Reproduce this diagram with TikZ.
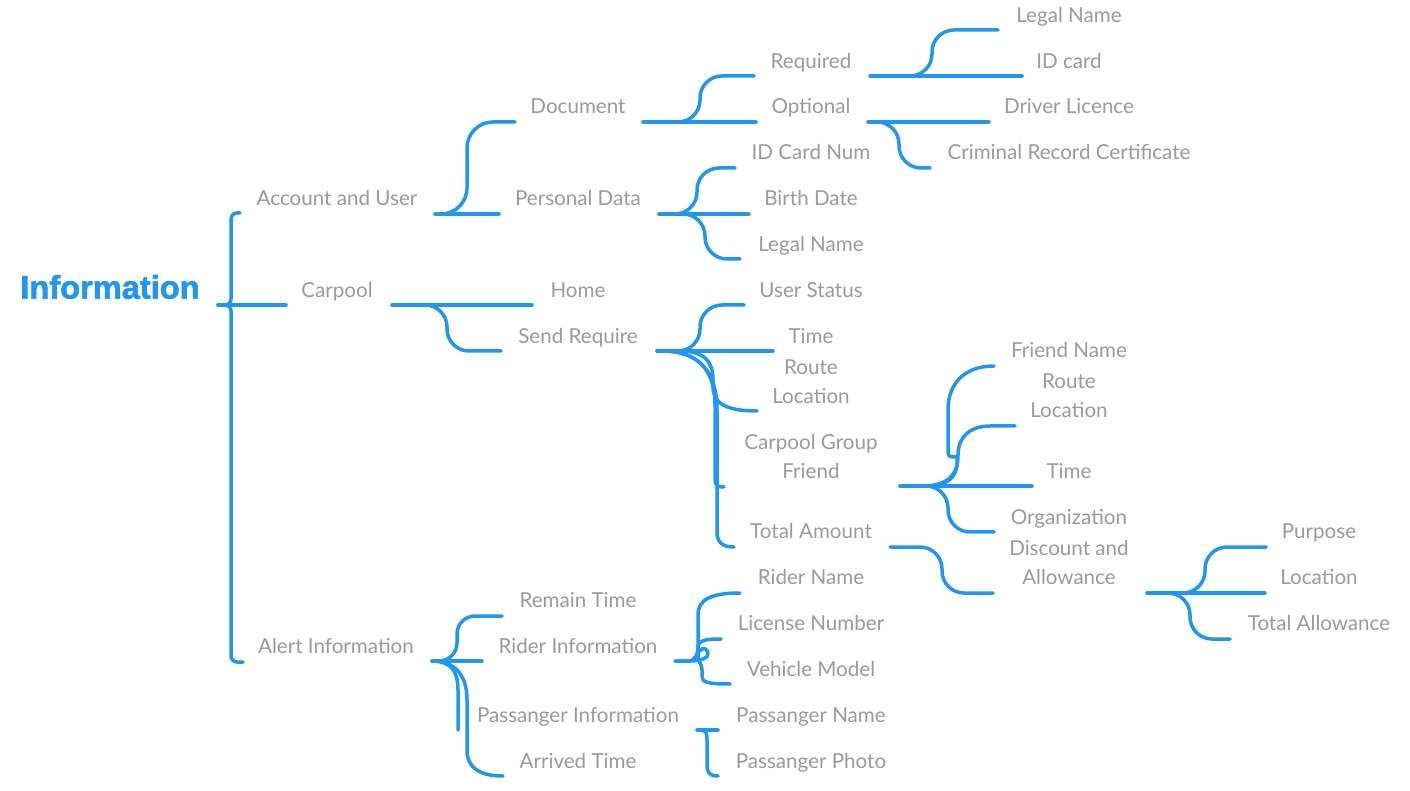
\documentclass[tikz,border=0pt]{standalone}
\usepackage{fontspec}
\setmainfont{Lato}
\newfontfamily\titlefont[BoldFeatures={FakeBold=1.8}]{Liberation Sans}
\definecolor{mapblue}{RGB}{33,150,243}
\definecolor{labelgray}{RGB}{155,155,155}
\tikzset{
  lbl/.style={text=labelgray, inner sep=0pt, yshift=-0.6pt, text height=1.45ex, text depth=0.25ex, font=\fontsize{10.3}{12}\selectfont},
  rootlbl/.style={text=mapblue, inner sep=0pt, font=\titlefont\bfseries\fontsize{16.3}{18}\selectfont},
  conn/.style={draw=mapblue, line width=1.75pt, line cap=round, line join=round},
  rc/.style={conn, rounded corners=#1},
  rc/.default=10pt
}
\begin{document}
\begin{tikzpicture}[x=0.5pt, y=-0.5pt]
\useasboundingbox (0,0) rectangle (1410,791);
% labels
\node[rootlbl] (info) at (110,287) {Information};
\node[lbl] (acc) at (337,198) {Account and User};
\node[lbl] (carpool) at (337,290) {Carpool};
\node[lbl] (alert) at (336,646) {Alert Information};
\node[lbl] (doc) at (578,106) {Document};
\node[lbl] (pers) at (578,198) {Personal Data};
\node[lbl] (home) at (578,290) {Home};
\node[lbl] (send) at (578,336) {Send Require};
\node[lbl] (remain) at (578,600) {Remain Time};
\node[lbl] (rider) at (578,646) {Rider Information};
\node[lbl] (pass) at (578,715) {Passanger Information};
\node[lbl] (arrived) at (578,761) {Arrived Time};
\node[lbl] (req) at (811,61) {Required};
\node[lbl] (opt) at (811,106) {Optional};
\node[lbl] (idnum) at (811,152) {ID Card Num};
\node[lbl] (birth) at (811,198) {Birth Date};
\node[lbl] (legal2) at (811,244) {Legal Name};
\node[lbl] (ustatus) at (811,290) {User Status};
\node[lbl] (time1) at (811,336) {Time};
\node[lbl] (route1) at (811,367) {Route};
\node[lbl] (loc1) at (811,396) {Location};
\node[lbl] (cgroup) at (811,442) {Carpool Group};
\node[lbl] (friend) at (811,471) {Friend};
\node[lbl] (total) at (811,531) {Total Amount};
\node[lbl] (rname) at (811,577) {Rider Name};
\node[lbl] (lic) at (811,623) {License Number};
\node[lbl] (veh) at (811,669) {Vehicle Model};
\node[lbl] (pname) at (811,715) {Passanger Name};
\node[lbl] (pphoto) at (811,761) {Passanger Photo};
\node[lbl] (legal1) at (1069,15) {Legal Name};
\node[lbl] (idcard) at (1069,61) {ID card};
\node[lbl] (driver) at (1069,106) {Driver Licence};
\node[lbl] (crim) at (1069,152) {Criminal Record Certificate};
\node[lbl] (fname) at (1069,350) {Friend Name};
\node[lbl] (route2) at (1069,381) {Route};
\node[lbl] (loc2) at (1069,410) {Location};
\node[lbl] (time2) at (1069,471) {Time};
\node[lbl] (org) at (1069,517) {Organization};
\node[lbl] (disc) at (1069,548) {Discount and};
\node[lbl] (allow) at (1069,577) {Allowance};
\node[lbl] (purpose) at (1319,531) {Purpose};
\node[lbl] (loc3) at (1319,577) {Location};
\node[lbl] (totalallow) at (1319,623) {Total Allowance};

% root brace
\coordinate (rootTip) at (218,305);
\draw[rc=3pt] (240,213) -- (231,213) -- (231,305) -- (rootTip);
\draw[rc=3pt] (rootTip) -- (231,305) -- (231,662) -- (243,662);
\draw[conn] (rootTip) -- (286,305);

% account and user
\coordinate (accO) at (435,214);
\draw[conn] (accO) -- (499,214);
\draw[rc=13pt] (accO) -- (467,214) -- (467,122) -- (515,122);

% document
\coordinate (docO) at (643,122);
\draw[conn] (docO) -- (756,122);
\draw[rc=11pt] (docO) -- (700,122) -- (700,76) -- (754,76);

% required
\coordinate (reqO) at (870,76);
\draw[conn] (reqO) -- (1022,76);
\draw[rc=11pt] (reqO) -- (932,76) -- (932,30) -- (998,30);

% optional
\coordinate (optO) at (868,122);
\draw[conn] (optO) -- (989,122);
\draw[rc=11pt] (optO) -- (899,122) -- (899,168) -- (930,168);

% personal data
\coordinate (persO) at (659,214);
\draw[conn] (persO) -- (749,214);
\draw[rc=11pt] (persO) -- (697,214) -- (697,168) -- (735,168);
\draw[rc=11pt] (persO) -- (705,214) -- (705,259) -- (740,259);

% carpool
\coordinate (carO) at (392,305);
\draw[conn] (carO) -- (532,305);
\draw[rc=11pt] (carO) -- (447,305) -- (447,351) -- (501,351);

% send require
\coordinate (sendO) at (657,351);
\draw[conn] (sendO) -- (773,351);
\draw[rc=11pt] (sendO) -- (700,351) -- (700,305) -- (744,305);
\draw[conn] (sendO) -- (680,351) .. controls (705,351) and (713,362) .. (713,380) -- (713,386) .. controls (713,403) and (725,411) .. (757,411);
\draw[conn] (sendO) -- (662,351) .. controls (700,351) and (715,372) .. (715,405) -- (715,480) .. controls (715,485) and (717,487) .. (724,487);
\draw[conn] (sendO) -- (662,351) .. controls (703,351) and (717,376) .. (717,410) -- (717,532) .. controls (717,542) and (722,547) .. (734,547);

% total amount
\coordinate (totO) at (890,547);
\draw[rc=11pt] (totO) -- (942,547) -- (942,593) -- (993,593);

% friend
\coordinate (frO) at (900,486);
\draw[conn] (frO) -- (1032,486);
\draw[conn] (957,457) -- (952,457) .. controls (949,457) and (948,455) .. (948,452) -- (948,410) .. controls (948,383) and (965,366) .. (994,366);
\draw[conn] (frO) -- (928,486) .. controls (952,486) and (959,472) .. (957,457);
\draw[conn] (frO) -- (922,486) .. controls (948,486) and (958,475) .. (958,455) .. controls (958,437) and (970,426) .. (990,426) -- (1015,426);
\draw[rc=11pt] (frO) -- (948,486) -- (948,532) -- (994,532);

% discount and allowance
\coordinate (discO) at (1147,593);
\draw[conn] (discO) -- (1265,593);
\draw[rc=11pt] (discO) -- (1205,593) -- (1205,547) -- (1266,547);
\draw[rc=11pt] (discO) -- (1190,593) -- (1190,639) -- (1230,639);

% alert information
\coordinate (alO) at (432,661);
\draw[conn] (alO) -- (482,661);
\draw[rc=9pt] (alO) -- (457,661) -- (457,616) -- (502,616);
\draw[conn] (alO) .. controls (450,661) and (458,670) .. (458,690) -- (458,730);
\draw[conn] (alO) .. controls (455,661) and (467,675) .. (467,700) -- (467,750) .. controls (467,768) and (480,776) .. (503,776);

% rider information
\coordinate (riO) at (675,661);
\draw[conn] (riO) -- (688,661) .. controls (695,661) and (698,655) .. (698,645) -- (698,615) .. controls (698,600) and (710,593) .. (740,593);
\draw[conn] (698,648) .. controls (698,641) and (703,639) .. (721,639);
\draw[conn] (riO) -- (690,661) .. controls (700,661) and (710,658) .. (708,652) .. controls (706,646) and (698,648) .. (698,656) .. controls (698,662) and (702,664) .. (702,670) -- (702,676) .. controls (702,682) and (706,684) .. (730,684);

% passanger
\coordinate (paO) at (697,730);
\draw[conn] (paO) -- (718,730);
\draw[conn] (700,730) .. controls (706,730) and (707,733) .. (707,740) -- (707,765) .. controls (707,773) and (710,776) .. (718,776);
\end{tikzpicture}
\end{document}
